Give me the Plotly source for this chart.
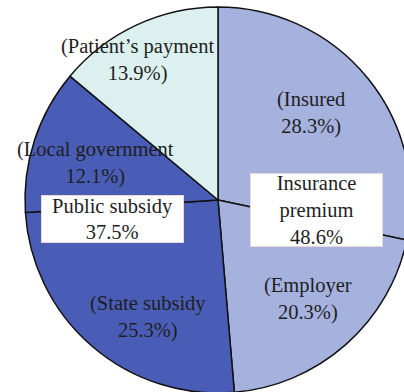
import plotly.graph_objects as go

labels = ["Insured", "Employer", "State subsidy", "Local government", "Patient\u2019s payment"]
values = [28.3, 20.3, 25.3, 12.1, 13.9]
slice_colors = ["#a6b2de", "#a6b2de", "#4a5db6", "#4a5db6", "#dcf0f0"]

group_labels = ["Insurance<br>premium", "Public subsidy"]
group_values = [48.6, 37.5]

W, H = 412, 400

def px(x, y):
    return x / W, 1 - y / H

fig = go.Figure()
fig.add_trace(go.Pie(
    labels=labels, values=values, sort=False, direction="clockwise", rotation=0,
    marker=dict(colors=slice_colors, line=dict(color="#111111", width=1.5)),
    textinfo="none", hoverinfo="label+percent", showlegend=False,
    domain=dict(x=[25 / W, 411 / W], y=[7 / H, 393 / H]),
))

font = dict(family="Liberation Serif, Times New Roman, serif", size=20.5, color="#1e1e1e")

# slice label centers (pixel positions in the frame)
label_pos = [(311, 113), (308, 299), (148, 317), (95, 163), (137, 60)]
annotations = []
for lab, val, (x, y) in zip(labels, values, label_pos):
    ax, ay = px(x, y)
    annotations.append(dict(
        x=ax, y=ay, xref="paper", yref="paper", xanchor="center", yanchor="middle",
        text=f"({lab}<br>{val:.1f}%)", showarrow=False, font=font,
    ))

box_pos = [((250, 173, 383, 247)), ((41, 195, 184, 243))]
for lab, val, (x0, y0, x1, y1) in zip(group_labels, group_values, box_pos):
    ax, ay = px((x0 + x1) / 2, (y0 + y1) / 2)
    annotations.append(dict(
        x=ax, y=ay, xref="paper", yref="paper", xanchor="center", yanchor="middle",
        text=f"{lab}<br>{val:.1f}%", showarrow=False, font=font,
        bgcolor="#ffffff", bordercolor="#ecd6d6", borderwidth=1, borderpad=0,
        width=x1 - x0 - 2, height=y1 - y0 - 2,
    ))

fig.update_layout(
    width=W, height=H, margin=dict(l=0, r=0, t=0, b=0),
    paper_bgcolor="#ffffff", plot_bgcolor="#ffffff",
    annotations=annotations,
)

fig.write_html("out.html", post_script="document.body.style.margin='0';document.body.style.overflow='hidden';document.documentElement.style.overflow='hidden';")
